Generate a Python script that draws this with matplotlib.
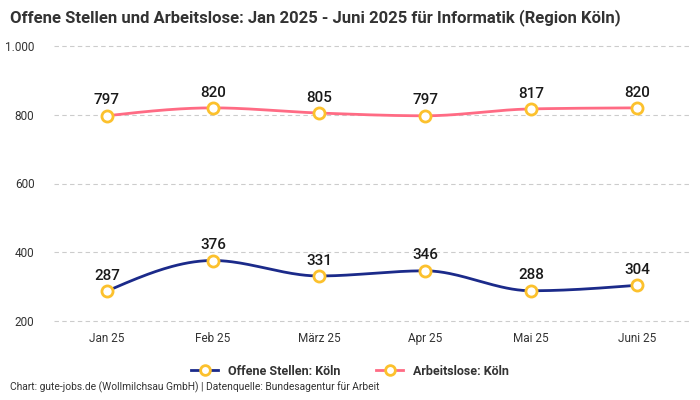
import numpy as np
import matplotlib
matplotlib.use("Agg")
import matplotlib.pyplot as plt
from matplotlib.lines import Line2D

plt.rcParams['font.family'] = ['Roboto', 'DejaVu Sans']

months = ["Jan 25", "Feb 25", "März 25", "Apr 25", "Mai 25", "Juni 25"]
offene_stellen = [287, 376, 331, 346, 288, 304]
arbeitslose = [797, 820, 805, 797, 817, 820]
y_ticks = [200, 400, 600, 800, 1000]
y_tick_labels = ["200", "400", "600", "800", "1.000"]

BLUE = "#1b2a8a"
PINK = "#ff6b84"
GOLD = "#fcc12d"


def monotone_curve(x, y, n=40):
    # monotone cubic (like d3 curveMonotoneX) for smooth drawing between points
    x = np.asarray(x, float)
    y = np.asarray(y, float)
    h = np.diff(x)
    s = np.diff(y) / h
    m = np.zeros_like(y)
    for i in range(1, len(y) - 1):
        if s[i - 1] * s[i] <= 0:
            m[i] = 0
        else:
            p = (s[i - 1] * h[i] + s[i] * h[i - 1]) / (h[i - 1] + h[i])
            m[i] = np.sign(s[i - 1]) * min(2 * min(abs(s[i - 1]), abs(s[i])), abs(p))
    m[0] = (3 * s[0] - m[1]) / 2
    m[-1] = (3 * s[-1] - m[-2]) / 2
    xs, ys = [], []
    for i in range(len(x) - 1):
        t = np.linspace(0, 1, n)
        h00 = 2 * t**3 - 3 * t**2 + 1
        h10 = t**3 - 2 * t**2 + t
        h01 = -2 * t**3 + 3 * t**2
        h11 = t**3 - t**2
        xs.append(x[i] + t * h[i])
        ys.append(h00 * y[i] + h10 * h[i] * m[i] + h01 * y[i + 1] + h11 * h[i] * m[i + 1])
    return np.concatenate(xs), np.concatenate(ys)


fig = plt.figure(figsize=(7, 4), dpi=100)
ax = fig.add_axes([0.077, 0.1975, 0.909, 0.6875])

xpos = np.arange(len(months))
for series, color in [(offene_stellen, BLUE), (arbeitslose, PINK)]:
    cx, cy = monotone_curve(xpos, series)
    ax.plot(cx, cy, color=color, lw=2, zorder=2)
    ax.plot(xpos, series, 'o', ms=8, mfc='white', mec=GOLD, mew=2, zorder=3)
    for xi, v in zip(xpos, series):
        ax.annotate(str(v), (xi, v), xytext=(0, 6), textcoords='offset points',
                    ha='center', va='bottom', fontsize=11, fontweight='medium',
                    color='#1a1a1a')

ax.set_xlim(-0.5, len(months) - 0.5)
ax.set_ylim(200, 1000)
ax.set_yticks(y_ticks)
ax.set_yticklabels(y_tick_labels)
ax.set_xticks(xpos)
ax.set_xticklabels(months)
ax.tick_params(axis='both', length=0, labelsize=8.5, colors='#333333')
ax.tick_params(axis='x', pad=8)
ax.tick_params(axis='y', pad=14)
ax.grid(axis='y', color='#cccccc', ls=(0, (4, 3)), lw=0.8)
for gl in ax.get_ygridlines():
    gl.set_clip_on(False)
ax.set_axisbelow(True)
for sp in ax.spines.values():
    sp.set_visible(False)

fig.text(0.014, 0.978, "Offene Stellen und Arbeitslose: Jan 2025 - Juni 2025 für Informatik (Region Köln)",
         ha='left', va='top', fontsize=12, fontweight='bold', color='#333333')

handles = [
    Line2D([], [], color=BLUE, lw=2, marker='o', ms=7, mfc='white', mec=GOLD, mew=2),
    Line2D([], [], color=PINK, lw=2, marker='o', ms=7, mfc='white', mec=GOLD, mew=2),
]
leg = fig.legend(handles, ["Offene Stellen: Köln", "Arbeitslose: Köln"],
                 loc='center', bbox_to_anchor=(0.5, 0.072), ncol=2, frameon=False,
                 handlelength=2.2, columnspacing=2.8,
                 prop={'weight': 'bold', 'size': 9})
for t in leg.get_texts():
    t.set_color('#333333')

fig.text(0.014, 0.017, "Chart: gute-jobs.de (Wollmilchsau GmbH) | Datenquelle: Bundesagentur für Arbeit",
         ha='left', va='bottom', fontsize=7.4, color='#333333')

fig.savefig("out.png", dpi=100)
